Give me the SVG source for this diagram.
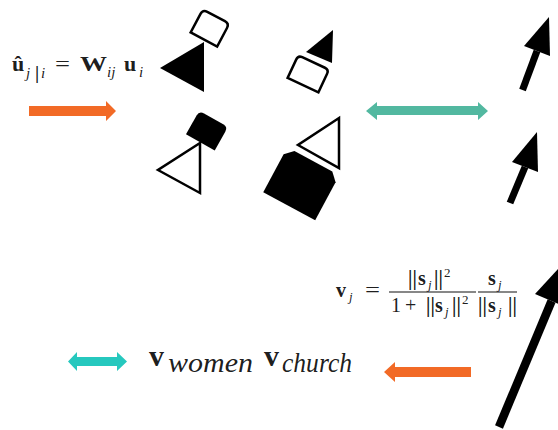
<svg xmlns="http://www.w3.org/2000/svg" width="558" height="430" viewBox="0 0 558 430">
<style>
text{font-family:"Liberation Serif","DejaVu Serif",serif;fill:#000;fill-opacity:0.9}
.b{font-weight:bold}
.i{font-style:italic}
.ol{fill:#fff;stroke:#000;stroke-width:2.5;stroke-linejoin:miter}
.fl{fill:#000}
.sh{stroke:#000;fill:none}
.or{fill:#F26A26}
.tg{fill:#52B8A0}
.tc{fill:#26C8BE}
.bar{stroke:#111;stroke-width:1.2}
.f1{font-size:22px}
.f2{font-size:20px}
.s1{font-size:15px}
.s2{font-size:13px}
</style>
<rect width="558" height="430" fill="#fff"/>
<g id="glyph1">
<path class="ol" transform="translate(210,28) rotate(28)" d="M-15,13 L15,13 L15,-8 Q15,-13 10,-13 L-10,-13 Q-15,-13 -15,-8 Z"/>
<polygon class="fl" points="204,42 204,92 160,68"/>
</g>
<g id="glyph2">
<path class="fl" transform="translate(207,130.6) rotate(29.5)" d="M-16.5,13.5 L16.5,13.5 L16.5,-8 Q16.5,-13.5 11,-13.5 L-11,-13.5 Q-16.5,-13.5 -16.5,-8 Z"/>
<polygon class="ol" points="200,143 200,193 158,170"/>
</g>
<g id="glyph3">
<polygon class="fl" points="333,30 332,63 306,52"/>
<path class="ol" transform="translate(308.3,73.8) rotate(25)" d="M-17,12.5 L17,12.5 L17,-8 Q17,-12.5 12.5,-12.5 L-12.5,-12.5 Q-17,-12.5 -17,-8 Z"/>
</g>
<g id="glyph4">
<polygon class="ol" points="339,118 339,168 298,145"/>
<path class="fl" transform="translate(301.3,183.7) rotate(28.3)" d="M-29.5,25.5 L29.5,25.5 L29.5,-17.5 L21.5,-25.5 L-21.5,-25.5 L-29.5,-17.5 Z"/>
</g>
<g id="vec1">
<line class="sh" x1="522.5" y1="90" x2="537" y2="51" stroke-width="7"/>
<polygon class="fl" points="549,17 524,46 550,56"/>
</g>
<g id="vec2">
<line class="sh" x1="510" y1="203" x2="525" y2="167" stroke-width="7"/>
<polygon class="fl" points="537,132 512,162 538,172"/>
</g>
<g id="vec3">
<line class="sh" x1="499" y1="427" x2="551.6" y2="301" stroke-width="8.5"/>
<polygon class="fl" points="571,255 535,294 568,308"/>
</g>
<g id="formula1">
<text x="12" y="71" class="f1 b">û</text>
<text class="s1"><tspan x="26" y="78" class="i">j</tspan><tspan x="35" y="79" class="b" style="font-size:19px">|</tspan><tspan x="41" y="78" class="i">i</tspan></text>
<text x="55" y="71" class="f1" textLength="15" lengthAdjust="spacingAndGlyphs">=</text>
<text x="80" y="71" class="f1 b" textLength="27" lengthAdjust="spacingAndGlyphs">W</text>
<text x="107" y="77" class="s1 i">ij</text>
<text x="124" y="71" class="f1 b">u</text>
<text x="139" y="77" class="s1 i">i</text>
</g>
<g id="formula2">
<text class="f2"><tspan x="336" y="297" class="b">v</tspan><tspan x="349" y="301" class="s2 i">j</tspan></text>
<text x="365" y="297" class="f2" textLength="15" lengthAdjust="spacingAndGlyphs">=</text>
<text class="f2"><tspan x="408" y="285" class="b">||</tspan><tspan x="418" y="285" class="b">s</tspan><tspan x="428" y="289" class="s2 i">j</tspan><tspan x="434" y="285" class="b">||</tspan><tspan x="444" y="277" class="s2">2</tspan></text>
<line class="bar" x1="389" y1="292" x2="476" y2="292"/>
<text class="f2"><tspan x="391" y="312">1</tspan><tspan x="405" y="312">+</tspan><tspan x="426" y="312" class="b">||</tspan><tspan x="435" y="312" class="b">s</tspan><tspan x="445" y="316" class="s2 i">j</tspan><tspan x="452" y="312" class="b">||</tspan><tspan x="462" y="304" class="s2">2</tspan></text>
<text class="f2"><tspan x="488" y="285" class="b">s</tspan><tspan x="498" y="289" class="s2 i">j</tspan></text>
<line class="bar" x1="478" y1="292" x2="517" y2="292"/>
<text class="f2"><tspan x="478" y="312" class="b">||</tspan><tspan x="488" y="312" class="b">s</tspan><tspan x="498" y="316" class="s2 i">j</tspan><tspan x="508" y="312" class="b">||</tspan></text>
</g>
<g id="words">
<text x="149" y="366" class="b" style="font-size:30px">v</text>
<text x="168" y="372" class="i" style="font-size:28px" textLength="85" lengthAdjust="spacingAndGlyphs">women</text>
<text x="264" y="366" class="b" style="font-size:30px">v</text>
<text x="282" y="372" class="i" style="font-size:28px" textLength="70" lengthAdjust="spacingAndGlyphs">church</text>
</g>
<g id="connectors">
<path class="or" d="M29,106 H106 V101 L116,111 L106,121 V116 H29 Z"/>
<path class="tg" d="M366,111 L377,102 V106 H478 V102 L488,111 L478,120 V115 H377 V120 Z"/>
<path class="tc" d="M68,361.5 L77,352 V357 H117 V352 L127,361.5 L117,371 V366 H77 V371 Z"/>
<path class="or" d="M471,367 H395 V362 L384,372 L395,382 V377 H471 Z"/>
</g>
</svg>
